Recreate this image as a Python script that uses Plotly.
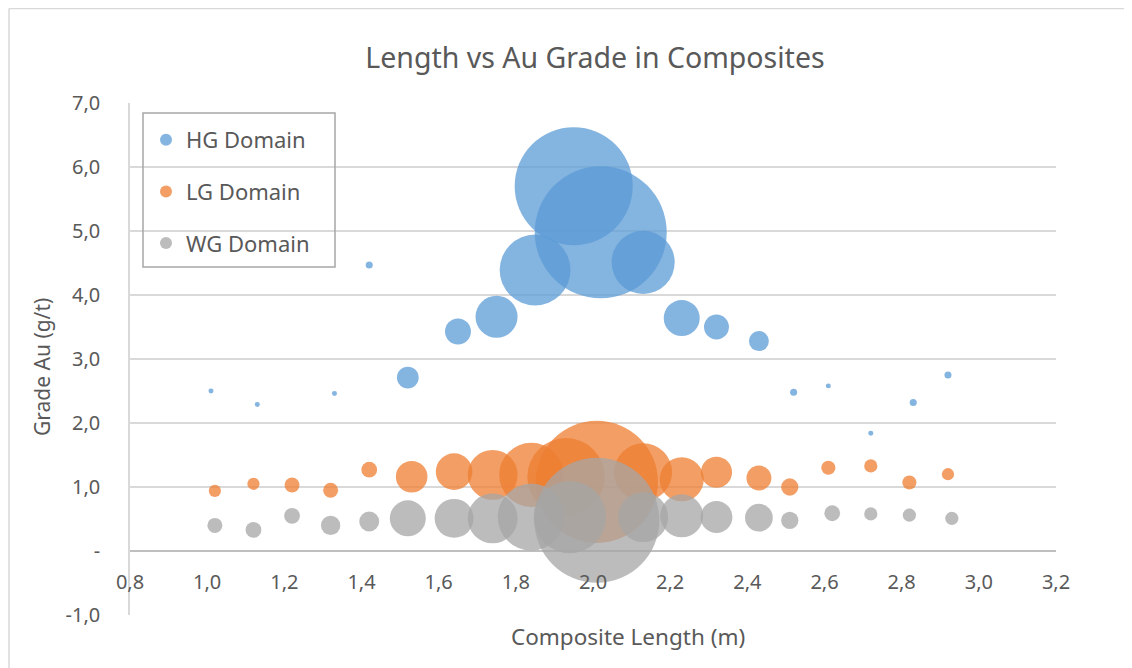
import numpy as np
import plotly.graph_objects as go

# ---- data ----
series_names = ["HG Domain", "LG Domain", "WG Domain"]

hg_len = [1.01, 1.13, 1.33, 1.42, 1.52, 1.65, 1.75, 1.85, 1.95, 2.02, 2.13, 2.23, 2.32, 2.43, 2.52, 2.61, 2.72, 2.83, 2.92]
hg_au = [2.50, 2.29, 2.46, 4.47, 2.71, 3.43, 3.66, 4.39, 5.70, 4.98, 4.51, 3.64, 3.50, 3.28, 2.48, 2.58, 1.84, 2.32, 2.75]
hg_n = [1, 1, 1, 2, 19, 27, 71, 202, 560, 700, 160, 52, 25, 16, 2, 1, 1, 2, 2]

lg_len = [1.02, 1.12, 1.22, 1.32, 1.42, 1.53, 1.64, 1.74, 1.84, 1.93, 2.01, 2.13, 2.23, 2.32, 2.43, 2.51, 2.61, 2.72, 2.82, 2.92]
lg_au = [0.94, 1.05, 1.03, 0.95, 1.27, 1.16, 1.24, 1.19, 1.19, 1.16, 1.08, 1.23, 1.12, 1.23, 1.14, 1.00, 1.30, 1.33, 1.07, 1.20]
lg_n = [6, 6, 9, 9, 10, 40, 54, 100, 165, 240, 600, 135, 78, 39, 25, 12, 8, 7, 8, 6]

wg_len = [1.02, 1.12, 1.22, 1.32, 1.42, 1.52, 1.64, 1.74, 1.84, 1.94, 2.01, 2.13, 2.23, 2.32, 2.43, 2.51, 2.62, 2.72, 2.82, 2.93]
wg_au = [0.40, 0.33, 0.55, 0.40, 0.46, 0.51, 0.51, 0.51, 0.53, 0.53, 0.48, 0.53, 0.55, 0.53, 0.52, 0.48, 0.59, 0.58, 0.56, 0.51]
wg_n = [9, 10, 10, 15, 16, 52, 61, 100, 180, 210, 628, 100, 74, 41, 31, 12, 10, 7, 7, 7]

y_tick_vals = [-1, 0, 1, 2, 3, 4, 5, 6, 7]
y_tick_text = ["-1,0", "-", "1,0", "2,0", "3,0", "4,0", "5,0", "6,0", "7,0"]

# ---- styling ----
colors = ["#5B9BD5", "#ED7D31", "#A5A5A5"]
FONT = "Segoe UI, Noto Sans, Open Sans, sans-serif"
TXT = "#595959"
MAX_DIAM = 132.0  # px, bubble-scale of the largest bubble

n_max = max(max(hg_n), max(lg_n), max(wg_n))


def diam(counts):
    return MAX_DIAM * np.sqrt(np.asarray(counts, dtype=float) / n_max)


fig = go.Figure()
for name, xs, ys, ns, col in zip(
    series_names,
    [hg_len, lg_len, wg_len],
    [hg_au, lg_au, wg_au],
    [hg_n, lg_n, wg_n],
    colors,
):
    fig.add_trace(
        go.Scatter(
            x=xs,
            y=ys,
            mode="markers",
            name=name,
            legendgroup=name,
            marker=dict(
                size=diam(ns),
                sizemode="diameter",
                color=col,
                opacity=0.75,
                line=dict(width=0),
            ),
        )
    )

# page offset (browser body margin) and plot-area geometry in window pixels
OFF = 8
W, H = 1132 - OFF, 668 - OFF
L, R, T, B = 130 - OFF, 1056 - OFF, 103 - OFF, 615 - OFF
pw, ph = R - L, B - T


def px(xp):
    return (xp - OFF - L) / pw


def py(yp):
    return (B - (yp - OFF)) / ph


shapes = [
    # legend box
    dict(type="rect", xref="paper", yref="paper",
         x0=px(143), x1=px(335), y0=py(267), y1=py(113),
         line=dict(color="#A6A6A6", width=1.5), fillcolor="rgba(0,0,0,0)"),
    # outer chart frame (left and top edges visible)
    dict(type="line", xref="paper", yref="paper",
         x0=px(9), x1=px(9), y0=py(8.5), y1=py(668),
         line=dict(color="#D9D9D9", width=1.5)),
    dict(type="line", xref="paper", yref="paper",
         x0=px(9), x1=px(1132), y0=py(8.5), y1=py(8.5),
         line=dict(color="#D9D9D9", width=1.5)),
]

annotations = [
    dict(text="Grade Au (g/t)", xref="paper", yref="paper",
         x=px(42), y=py(367), textangle=-90, showarrow=False,
         font=dict(family=FONT, size=21, color=TXT),
         xanchor="center", yanchor="middle"),
    dict(text="Composite Length (m)", xref="paper", yref="paper",
         x=px(628), y=py(636), showarrow=False,
         font=dict(family=FONT, size=22.5, color=TXT),
         xanchor="center", yanchor="middle"),
]

fig.update_layout(
    width=W,
    height=H,
    margin=dict(l=L, r=W - R, t=T, b=H - B),
    paper_bgcolor="white",
    plot_bgcolor="white",
    separators=", ",
    title=dict(
        text="Length vs Au Grade in Composites",
        x=(595 - OFF) / W, xref="container", xanchor="center",
        y=1 - (58 - OFF) / H, yref="container", yanchor="middle",
        font=dict(family=FONT, size=28.5, color=TXT),
    ),
    xaxis=dict(
        range=[0.8, 3.2],
        tick0=0.8,
        dtick=0.2,
        tickformat=".1f",
        showgrid=False,
        zeroline=False,
        showline=False,
        anchor="free",
        position=py(551),
        ticks="outside",
        ticklen=13,
        tickcolor="rgba(0,0,0,0)",
        tickfont=dict(family=FONT, size=20, color=TXT),
    ),
    yaxis=dict(
        range=[-1, 7],
        tickvals=y_tick_vals,
        ticktext=y_tick_text,
        showgrid=True,
        gridcolor="#D9D9D9",
        gridwidth=1.5,
        zeroline=True,
        zerolinecolor="#BFBFBF",
        zerolinewidth=1.5,
        showline=True,
        linecolor="#D9D9D9",
        linewidth=1.5,
        ticks="outside",
        ticklen=24,
        tickcolor="rgba(0,0,0,0)",
        tickfont=dict(family=FONT, size=20, color=TXT),
    ),
    legend=dict(
        x=px(146), y=py(119), xanchor="left", yanchor="top",
        bgcolor="rgba(0,0,0,0)",
        borderwidth=0,
        traceorder="grouped",
        tracegroupgap=20,
        itemsizing="constant",
        font=dict(family=FONT, size=22, color=TXT),
    ),
    shapes=shapes,
    annotations=annotations,
    showlegend=True,
)

fig.write_html("out.html")
